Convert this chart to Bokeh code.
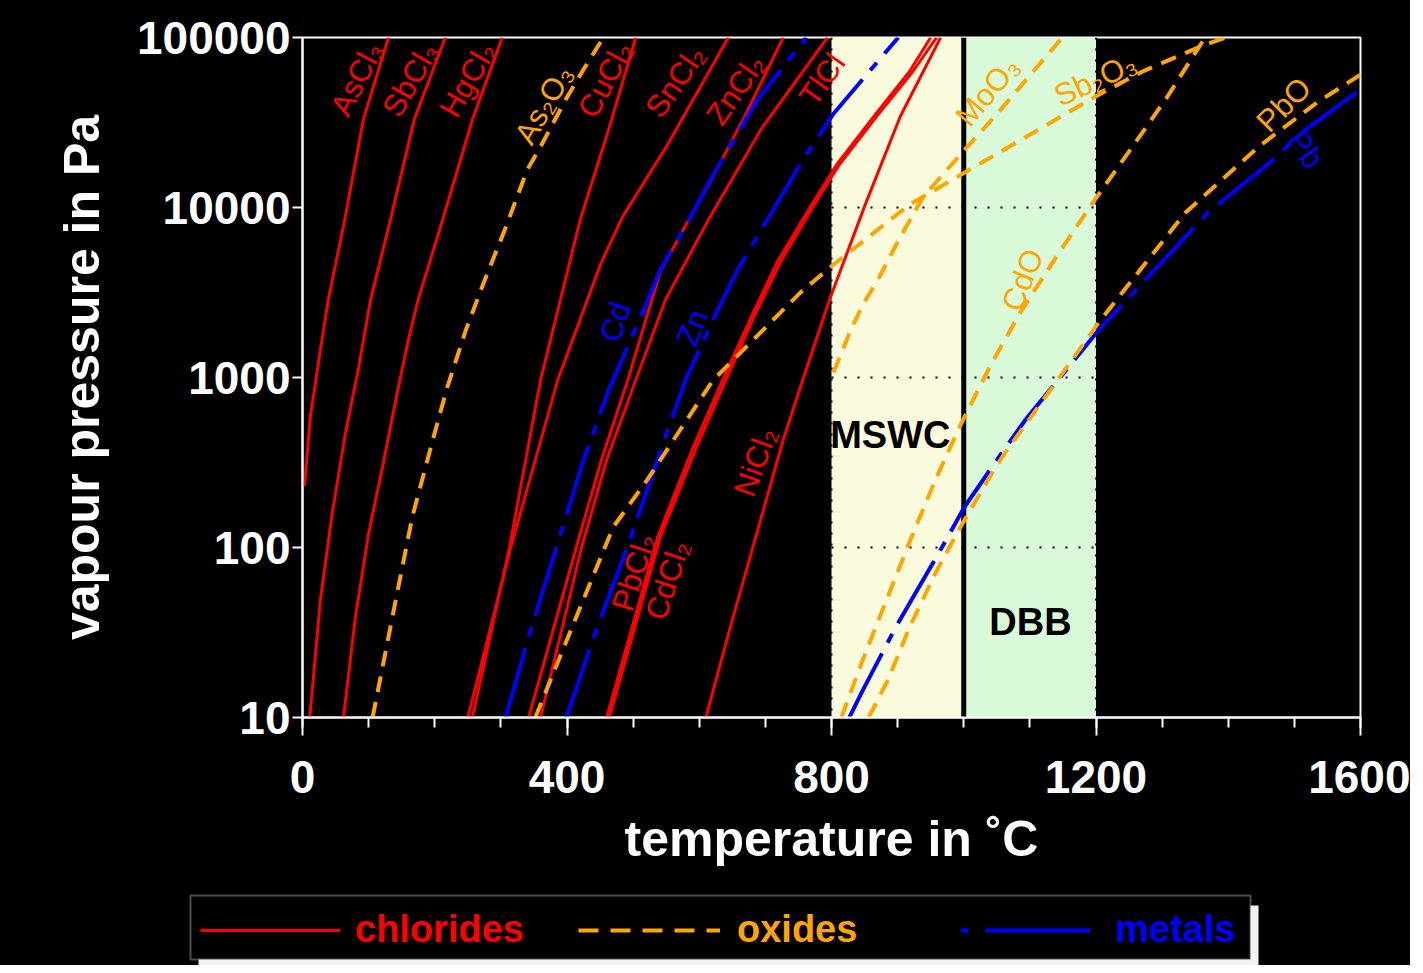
from bokeh.plotting import figure
from bokeh.layouts import column
from bokeh.models import (Range1d, FixedTicker, NumeralTickFormatter, BoxAnnotation,
                          Span, Label, Legend, LegendItem)
from bokeh.embed import file_html
from bokeh.resources import INLINE

FONT = "Liberation Sans"
RED, ORANGE, BLUE = "#ff0000", "#ffa500", "#0000ff"

# ---------------- data: temperature (deg C) and vapour pressure (Pa) ----------------
# chlorides
AsCl3_T = [3, 12, 27, 39, 64, 92, 130]
AsCl3_P = [230, 590, 1450, 2870, 8500, 32900, 100000]
SbCl3_T = [11, 27, 45, 65, 85, 103, 133, 169, 216]
SbCl3_P = [10, 49, 159, 471, 1150, 2870, 8470, 32900, 100000]
HgCl2_T = [62, 80, 100, 121, 141, 160, 175, 212, 257, 302]
HgCl2_P = [10, 39, 121, 297, 737, 1660, 2870, 8470, 32900, 100000]
CuCl2_T = [257, 313, 360, 420, 463, 504]
CuCl2_P = [10, 100, 966, 8470, 28700, 100000]
SnCl2_T = [250, 315, 386, 451, 484, 552, 644]
SnCl2_P = [10, 100, 966, 4660, 8810, 23400, 100000]
ZnCl2_T = [342, 414, 452, 492, 541, 584, 617, 670, 727]
ZnCl2_P = [10, 100, 327, 966, 4180, 8470, 14200, 35200, 100000]
TlCl_T = [360, 422, 460, 504, 549, 614, 693, 794]
TlCl_P = [10, 100, 327, 966, 2870, 8470, 28700, 100000]
PbCl2_T = [460, 537, 591, 632, 678, 718, 770, 808, 864, 918, 950]
PbCl2_P = [10, 115, 390, 904, 2240, 4790, 10400, 17900, 34300, 63100, 100000]
CdCl2_T = [464, 541, 596, 637, 682, 723, 774, 812, 868, 923, 959]
CdCl2_P = [10, 115, 390, 904, 2240, 4790, 10400, 17900, 34300, 63100, 100000]
NiCl2_T = [610, 647, 684, 727, 753, 797, 851, 904, 965]
NiCl2_P = [10, 34, 110, 429, 879, 2870, 10400, 34300, 100000]

# oxides
As2O3_T = [106, 141, 166, 197, 219, 247, 274, 306, 340, 360, 398, 425, 455]
As2O3_P = [10, 49, 151, 429, 879, 1900, 3610, 7400, 16700, 22800, 43100, 64800, 100000]
Sb2O3_T = [352, 420, 470, 521, 571, 621, 754, 799, 918, 1199, 1270, 1358, 1396]
Sb2O3_P = [10, 44.5, 132, 249, 491, 966, 3190, 4480, 10400, 44900, 63000, 88500, 100000]
MoO3_T = [803, 829, 848, 870, 904, 939, 988, 1056, 1149]
MoO3_P = [1070, 1900, 2710, 3750, 6710, 11600, 19100, 37700, 100000]
CdO_T = [815, 847, 880, 916, 957, 995, 1041, 1086, 1139, 1193, 1252, 1305, 1363]
CdO_P = [10, 21.7, 45.7, 103, 249, 525, 1190, 2430, 5060, 10400, 21900, 43100, 97300]
PbO_T = [856, 885, 918, 957, 995, 1039, 1062, 1131, 1207, 1335, 1446, 1534, 1600]
PbO_P = [10, 16.5, 33.9, 70.5, 132, 259, 359, 843, 2180, 9310, 22800, 41400, 60500]

# metals
Cd_T = [307, 345, 384, 425, 463, 516, 541, 587, 617, 688, 762]
Cd_P = [10, 32.6, 100, 327, 843, 2500, 4300, 8830, 14600, 43100, 100000]
Zn_T = [399, 444, 491, 579, 628, 658, 712, 753, 803, 853, 901]
Zn_P = [10, 32.6, 100, 966, 2500, 4300, 9700, 18100, 35600, 60500, 100000]
Pb_T = [827, 847, 897, 962, 1001, 1050, 1093, 1139, 1204, 1369, 1468, 1517, 1600]
Pb_P = [10, 14.4, 33.9, 92.5, 173, 327, 562, 929, 1900, 9310, 19100, 28700, 49400]

# zones (MSWC / DBB) and axes
ZONES_T = [800, 1000, 1200]
GRID_P = [100, 1000, 10000]
X_TICKS = [0, 400, 800, 1200, 1600]
X_MINOR = [0, 100, 200, 300, 400, 500, 600, 700, 800, 900, 1000, 1100, 1200, 1300, 1400, 1500, 1600]
Y_TICKS = [10, 100, 1000, 10000, 100000]

# curve labels: text, T, P, angle (deg), colour
LABELS = [
    ("AsCl₃", 82, 57300, 63, RED),
    ("SbCl₃", 163, 56600, 60, RED),
    ("HgCl₂", 250, 56600, 60, RED),
    ("As₂O₃", 365, 40300, 60, ORANGE),
    ("CuCl₂", 458, 56600, 62, RED),
    ("SnCl₂", 564, 55100, 55, RED),
    ("ZnCl₂", 655, 49400, 55, RED),
    ("TlCl", 786, 56600, 55, RED),
    ("Cd", 473, 2120, 72, BLUE),
    ("Zn", 590, 1960, 68, BLUE),
    ("PbCl₂", 501, 71.5, 72, RED),
    ("CdCl₂", 552, 64.1, 72, RED),
    ("NiCl₂", 685, 318, 70, RED),
    ("MoO₃", 1036, 48100, 50, ORANGE),
    ("Sb₂O₃", 1199, 56600, 25, ORANGE),
    ("CdO", 1089, 3750, 68, ORANGE),
    ("PbO", 1484, 40300, 45, ORANGE),
    ("Pb", 1517, 21900, -55, BLUE),
]

# legend entries: label, colour, dash pattern, width
LEGEND_ITEMS = [("chlorides", RED, "solid", 3),
                ("oxides", ORANGE, "20 12", 4),
                ("metals", BLUE, "8 17 110 10", 4)]

W = 1410

# ---------------- main figure ----------------
p = figure(width=W, height=880, output_backend="svg", toolbar_location=None,
           x_range=Range1d(0, 1600), y_range=Range1d(10, 100000), y_axis_type="log",
           min_border_left=302, min_border_right=W - 1360, min_border_top=37, min_border_bottom=163,
           background_fill_color="black", border_fill_color="black")
p.frame_align = False
p.outline_line_color = "white"
p.outline_line_width = 2
p.grid.visible = False

# shaded zones
p.add_layout(BoxAnnotation(left=ZONES_T[0], right=ZONES_T[1], fill_color="#fafadc", fill_alpha=1,
                           line_color=None, level="underlay"))
p.add_layout(BoxAnnotation(left=ZONES_T[1], right=ZONES_T[2], fill_color="#d8fad8", fill_alpha=1,
                           line_color=None, level="underlay"))
for t in (ZONES_T[0], ZONES_T[2]):
    p.add_layout(Span(location=t, dimension="height", line_color="black", line_width=2,
                      line_dash="2 9", level="underlay"))
p.add_layout(Span(location=ZONES_T[1], dimension="height", line_color="black", line_width=5,
                  level="underlay"))
p.segment(x0=[ZONES_T[0]] * len(GRID_P), x1=[ZONES_T[2]] * len(GRID_P), y0=GRID_P, y1=GRID_P,
          line_color="black", line_width=2, line_dash="2 11")

# curves
chlorides = [(AsCl3_T, AsCl3_P), (SbCl3_T, SbCl3_P), (HgCl2_T, HgCl2_P), (CuCl2_T, CuCl2_P),
             (SnCl2_T, SnCl2_P), (ZnCl2_T, ZnCl2_P), (TlCl_T, TlCl_P), (PbCl2_T, PbCl2_P),
             (CdCl2_T, CdCl2_P), (NiCl2_T, NiCl2_P)]
metals = [(Cd_T, Cd_P), (Zn_T, Zn_P), (Pb_T, Pb_P)]
oxides = [(As2O3_T, As2O3_P), (Sb2O3_T, Sb2O3_P), (MoO3_T, MoO3_P), (CdO_T, CdO_P), (PbO_T, PbO_P)]

for t, pr in chlorides:
    p.line(t, pr, line_color=RED, line_width=3, line_join="round")
for t, pr in metals:
    p.line(t, pr, line_color=BLUE, line_width=4, line_dash="72 12 10 12", line_join="round")
for t, pr in oxides:
    p.line(t, pr, line_color=ORANGE, line_width=4, line_dash="16 10", line_join="round")

# labels
for text, t, pr, ang, col in LABELS:
    p.add_layout(Label(x=t, y=pr, text=text, angle=ang, angle_units="deg", text_color=col,
                       text_font=FONT, text_font_size="31px", text_align="center",
                       text_baseline="middle"))
p.add_layout(Label(x=889, y=458, text="MSWC", text_color="black", text_font=FONT,
                   text_font_size="38px", text_font_style="bold", text_align="center",
                   text_baseline="middle"))
p.add_layout(Label(x=1101, y=36.3, text="DBB", text_color="black", text_font=FONT,
                   text_font_size="38px", text_font_style="bold", text_align="center",
                   text_baseline="middle"))

# axes
p.xaxis.ticker = FixedTicker(ticks=X_TICKS, minor_ticks=X_MINOR)
p.yaxis.ticker = FixedTicker(ticks=Y_TICKS)
p.yaxis.formatter = NumeralTickFormatter(format="0")
for ax in (p.xaxis[0], p.yaxis[0]):
    ax.axis_line_color = "white"
    ax.axis_line_width = 2
    ax.major_tick_line_color = "white"
    ax.major_tick_line_width = 2
    ax.minor_tick_line_color = "white"
    ax.minor_tick_line_width = 2
    ax.major_tick_in = 0
    ax.minor_tick_in = 0
    ax.major_label_text_color = "white"
    ax.major_label_text_font = FONT
    ax.major_label_text_font_size = "46px"
    ax.major_label_text_font_style = "bold"
    ax.axis_label_text_color = "white"
    ax.axis_label_text_font = FONT
    ax.axis_label_text_font_size = "50px"
    ax.axis_label_text_font_style = "bold"
p.yaxis.minor_tick_line_color = None
p.yaxis.major_tick_out = 10
p.yaxis.major_label_standoff = 2
p.yaxis.axis_label = "vapour pressure in Pa"
p.yaxis.axis_label_standoff = 24
p.xaxis.major_tick_out = 18
p.xaxis.minor_tick_out = 10
p.xaxis.major_label_standoff = 25
p.xaxis.axis_label = "temperature in ˚C"
p.xaxis.axis_label_standoff = 15

# ---------------- legend strip ----------------
LH = 85
lf = figure(width=W, height=LH, output_backend="svg", toolbar_location=None,
            x_range=Range1d(0, W), y_range=Range1d(0, LH), min_border=0,
            x_axis_location=None, y_axis_location=None,
            background_fill_color="black", border_fill_color="black")
lf.frame_align = False
lf.grid.visible = False
lf.outline_line_color = None

lf.add_layout(BoxAnnotation(left=198, right=1258, top=60, bottom=0,
                            fill_color="#f2f2f2", fill_alpha=1, line_color=None))
lf.add_layout(BoxAnnotation(left=190, right=1250, top=70, bottom=6,
                            fill_color="black", fill_alpha=1, line_color="white", line_width=2))

LEG_POS = [(200, 140, 15), (578, 142, 17), (960, 130, 25)]  # left px, glyph width, standoff
for (label, col, dash, lw), (lx, gw, so) in zip(LEGEND_ITEMS, LEG_POS):
    # legend-only renderer kept outside the visible range of the legend strip
    r = lf.line(x=[-50, -40], y=[-50, -50], line_color=col, line_width=lw, line_dash=dash)
    lg = Legend(items=[LegendItem(label=label, renderers=[r])], location=(lx, 14),
                orientation="horizontal", glyph_width=gw, glyph_height=40,
                label_standoff=so, padding=0, margin=0, spacing=0,
                border_line_color=None, background_fill_alpha=0,
                label_text_color=col, label_text_font=FONT, label_text_font_size="38px",
                label_text_font_style="bold")
    lf.add_layout(lg)

layout = column(p, lf, spacing=0, styles={"background-color": "black"})
open("out.html", "w").write(file_html(layout, INLINE))
